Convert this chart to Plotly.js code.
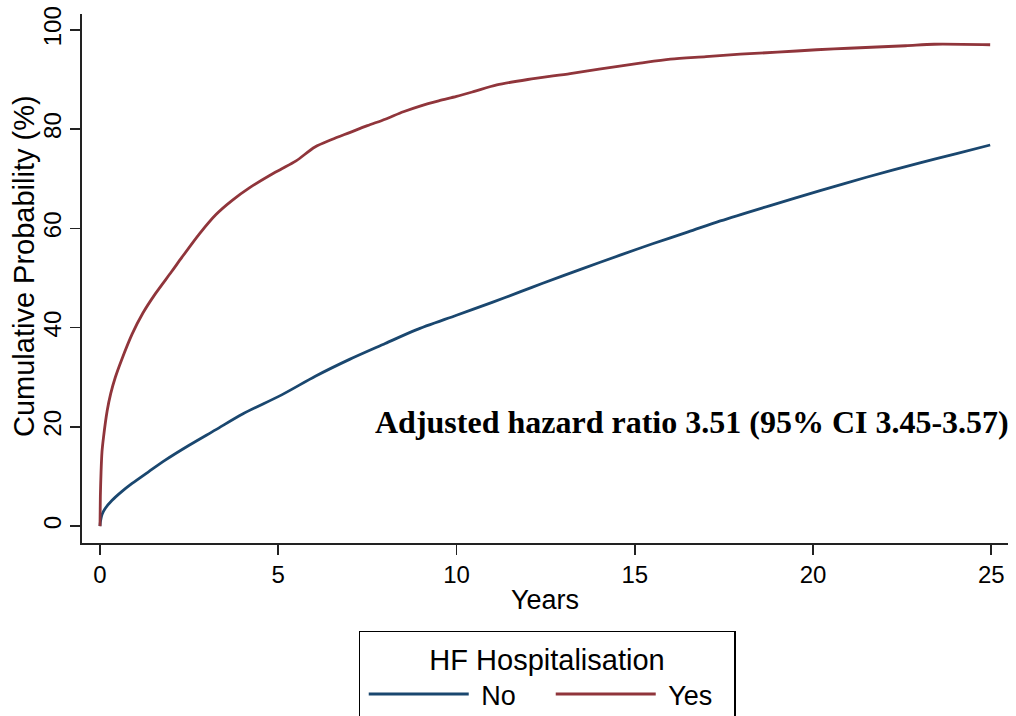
<!DOCTYPE html>
<html>
<head>
<meta charset="utf-8">
<script src="https://cdn.plot.ly/plotly-3.0.1.min.js"></script>
<style>
  html, body { margin: 0; padding: 0; background: #ffffff; }
  #chart { width: 1016px; height: 716px; }
</style>
</head>
<body>
<div id="chart"></div>
<script>
// Cumulative probability (%) by years of follow-up, by HF hospitalisation status
const yearsNo = [0, 0.01, 0.03, 0.06, 0.15, 0.34, 0.6, 0.9, 1.37, 1.83, 2.5, 3.24, 4.0, 5.11,
  6.04, 7.0, 8.0, 8.85, 10.0, 11.0, 11.78, 12.4, 13.5, 14.59, 15.5, 16.5, 17.4, 18.8,
  20.2, 21.5, 23.0, 24.0, 24.97];
const probNo = [0, 0.8, 1.6, 2.4, 3.6, 5.2, 6.9, 8.6, 11.0, 13.3, 16.3, 19.4, 22.6, 26.5,
  30.2, 33.6, 36.8, 39.5, 42.5, 45.1, 47.2, 48.9, 51.8, 54.6, 56.9, 59.3, 61.5, 64.6,
  67.6, 70.3, 73.2, 75.0, 76.8];

const yearsYes = [0, 0.01, 0.03, 0.056, 0.1, 0.2, 0.3, 0.43, 0.6, 0.9, 1.2, 1.55, 2.0, 2.3,
  2.8, 3.24, 3.7, 4.2, 4.77, 5.1, 5.5, 6.03, 6.5, 7.0, 7.5, 8.0, 8.51, 9.0, 9.5, 10.0, 10.5,
  11.13, 12.0, 13.19, 14.0, 15.15, 16.0, 17.0, 17.96, 19.0, 20.1, 21.0, 22.6, 23.4, 24.97];
const probYes = [0, 6, 11, 15, 18, 23.2, 26.7, 30, 33.4, 38.7, 42.9, 46.8, 51.2, 54.2,
  59.0, 62.7, 65.6, 68.2, 70.7, 72.0, 73.6, 76.4, 77.9, 79.3, 80.7, 82.0, 83.5, 84.7, 85.7, 86.6, 87.6,
  88.9, 90.0, 91.2, 92.1, 93.3, 94.1, 94.6, 95.1, 95.5, 96.0, 96.3, 96.8, 97.1, 97.0];

const groupNames = ['No', 'Yes'];
const groupColors = ['#1a476f', '#90353b'];
const xTickVals = [0, 5, 10, 15, 20, 25];
const yTickVals = [0, 20, 40, 60, 80, 100];
const xTitle = 'Years';
const yTitle = 'Cumulative Probability (%)';
const legendTitle = 'HF Hospitalisation';
const hrText = 'Adjusted hazard ratio 3.51 (95% CI 3.45-3.57)';

const sans = 'Liberation Sans, Arial, Helvetica, sans-serif';
const serif = 'Liberation Serif, Times New Roman, serif';
const axisColor = '#222222';

const traces = [
  { x: yearsNo, y: probNo, name: '&nbsp;' + groupNames[0] },
  { x: yearsYes, y: probYes, name: '&nbsp;' + groupNames[1] }
].map((t, i) => Object.assign(t, {
  type: 'scatter',
  mode: 'lines',
  line: { color: groupColors[i], width: 2.8, shape: 'spline', smoothing: 0.8 },
  hoverinfo: 'x+y+name'
}));

const layout = {
  width: 1016,
  height: 716,
  margin: { l: 82, r: 8, t: 14, b: 173, autoexpand: false },
  paper_bgcolor: '#ffffff',
  plot_bgcolor: '#ffffff',
  font: { family: sans, color: '#000000' },
  showlegend: true,
  xaxis: {
    range: [-0.505, 25.47],
    tickvals: xTickVals,
    ticks: 'outside', ticklen: 10, tickwidth: 1.6, tickcolor: axisColor,
    showline: true, linewidth: 1.6, linecolor: axisColor,
    showgrid: false, zeroline: false,
    tickfont: { size: 24, family: sans },
    title: { text: xTitle, font: { size: 27, family: sans }, standoff: 2 },
    automargin: false
  },
  yaxis: {
    range: [-3.4, 103.2],
    tickvals: yTickVals,
    ticks: 'outside', ticklen: 10, tickwidth: 1.6, tickcolor: axisColor,
    showline: true, linewidth: 1.6, linecolor: axisColor,
    showgrid: false, zeroline: false,
    tickangle: -90,
    tickfont: { size: 24, family: sans },
    automargin: false
  },
  legend: {
    orientation: 'h',
    x: 0.5022, xanchor: 'center',
    y: -0.1664, yanchor: 'top',
    bordercolor: '#000000', borderwidth: 1.2,
    bgcolor: '#ffffff',
    font: { size: 27, family: sans },
    title: { text: legendTitle, side: 'top center', font: { size: 29, family: sans } },
    itemwidth: 100,
    entrywidth: 68,
    indentation: 4,
    traceorder: 'normal'
  },
  annotations: [
    {
      // vertical axis title, set slightly above the axis midpoint
      x: -0.0626, y: 0.5236, xref: 'paper', yref: 'paper',
      text: yTitle, textangle: -90,
      showarrow: false,
      font: { family: sans, size: 29, color: '#000000' },
      xanchor: 'center', yanchor: 'middle'
    },
    {
      x: 16.6, y: 21, xref: 'x', yref: 'y',
      text: '<b>' + hrText + '</b>',
      showarrow: false,
      font: { family: serif, size: 32, color: '#000000' },
      xanchor: 'center', yanchor: 'middle'
    }
  ]
};

Plotly.newPlot('chart', traces, layout, { displayModeBar: false, staticPlot: true });
</script>
</body>
</html>
